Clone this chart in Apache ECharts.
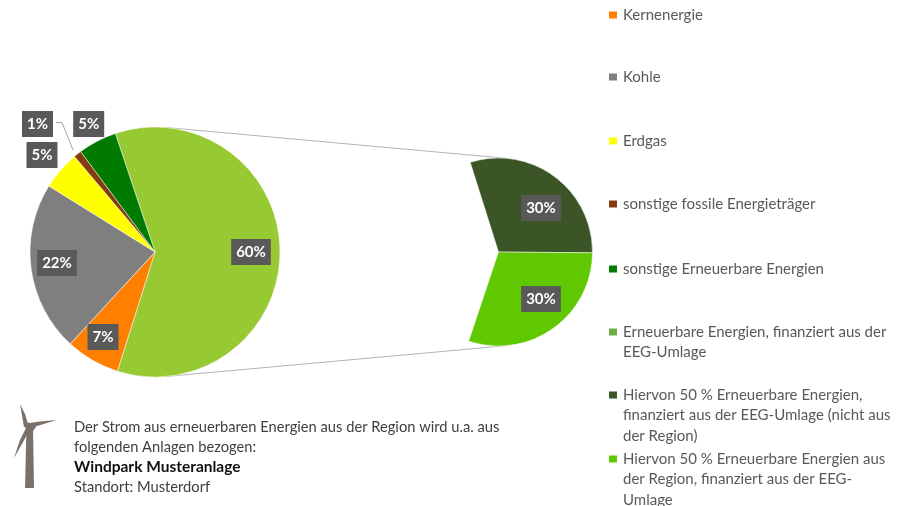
<!DOCTYPE html>
<html>
<head>
<meta charset="utf-8">
<style>
  html, body { margin: 0; padding: 0; background: #fff; }
  #chart { width: 908px; height: 506px; }
</style>
<script src="https://cdn.jsdelivr.net/npm/echarts@6/dist/echarts.min.js"></script>
</head>
<body>
<div id="chart"></div>
<script>
// data
const mainNames = [
  'Erneuerbare Energien, finanziert aus der EEG-Umlage',
  'Kernenergie',
  'Kohle',
  'Erdgas',
  'sonstige fossile Energieträger',
  'sonstige Erneuerbare Energien'
]
const mainValues = [60, 7, 22, 5, 1, 5]
const subNames = [
  'Hiervon 50 % Erneuerbare Energien, finanziert aus der EEG-Umlage (nicht aus der Region)',
  'Hiervon 50 % Erneuerbare Energien aus der Region, finanziert aus der EEG-Umlage'
]
const subValues = [30, 30]
const legendOrder = [
  'Kernenergie',
  'Kohle',
  'Erdgas',
  'sonstige fossile Energieträger',
  'sonstige Erneuerbare Energien',
  'Erneuerbare Energien, finanziert aus der EEG-Umlage',
  'Hiervon 50 % Erneuerbare Energien, finanziert aus der EEG-Umlage (nicht aus der Region)',
  'Hiervon 50 % Erneuerbare Energien aus der Region, finanziert aus der EEG-Umlage'
]
const legendLines = [
  ['Kernenergie'],
  ['Kohle'],
  ['Erdgas'],
  ['sonstige fossile Energieträger'],
  ['sonstige Erneuerbare Energien'],
  ['Erneuerbare Energien, finanziert aus der', 'EEG-Umlage'],
  ['Hiervon 50 % Erneuerbare Energien,', 'finanziert aus der EEG-Umlage (nicht aus', 'der Region)'],
  ['Hiervon 50 % Erneuerbare Energien aus', 'der Region, finanziert aus der EEG-', 'Umlage']
]
const noteLines = [
  'Der Strom aus erneuerbaren Energien aus der Region wird u.a. aus',
  'folgenden Anlagen bezogen:',
  'Windpark Musteranlage',
  'Standort: Musterdorf'
]

// styles and layout
const mainColors = ['#97c933', '#ff7f00', '#7f7f7f', '#ffff00', '#843c0c', '#007a00']
const subColors = ['#3b5526', '#5fc800']
const legendColors = ['#ff7f00', '#7f7f7f', '#ffff00', '#843c0c', '#007a00', '#70ad47', '#3b5526', '#5fc800']
const legendY = [15, 77, 141, 204, 269, 332, 395, 459]
const mainLabelPos = [[251, 252], [103, 337], [57, 263], [42, 155], [37.5, 124], [88.7, 124]]
const subLabelPos = [[541, 208], [541, 299]]
const noteY = [427, 447, 467, 487]
const FONT = 'Lato, "Open Sans", sans-serif'
const LEGEND_LINE = 20.5
const mainPie = { x: 155, y: 252, r: 125 }
const subPie = { x: 498.5, y: 252, r: 94 }

// aeussere Tangenten zwischen den beiden Kreisen
function connectors() {
  const a = Math.asin((mainPie.r - subPie.r) / (subPie.x - mainPie.x))
  return [-1, 1].map(sign => ({
    type: 'line',
    silent: true,
    shape: {
      x1: mainPie.x + mainPie.r * Math.sin(a),
      y1: mainPie.y + sign * mainPie.r * Math.cos(a),
      x2: subPie.x + subPie.r * Math.sin(a),
      y2: subPie.y + sign * subPie.r * Math.cos(a)
    },
    style: { stroke: '#b3b3b3', lineWidth: 1 }
  }))
}

function turbine() {
  const fill = '#7a716b'
  return [
    [[26.5, 427], [33, 427], [34, 488], [25, 488]],
    [[20, 404], [25, 414], [28.5, 426], [24, 427]],
    [[26, 423.5], [40, 421.5], [56.5, 420], [42, 424.5], [28, 429]],
    [[25.5, 429], [20, 440], [14, 458], [22.5, 443], [29, 431]],
    [[24, 422], [30, 423], [36, 427], [33, 431], [26, 430]]
  ].map(points => ({
    type: 'polygon',
    silent: true,
    shape: { points },
    style: { fill }
  }))
}

function pieSeries(names, values, colors, pos, pie, startAngle) {
  return {
    type: 'pie',
    center: [pie.x, pie.y],
    radius: pie.r,
    startAngle,
    // beide Kreise ueberstreichen nur die 60 % = 216 Grad der Anteile
    endAngle: startAngle - values.reduce((a, b) => a + b, 0) * 3.6,
    clockwise: true,
    animation: false,
    silent: true,
    avoidLabelOverlap: false,
    itemStyle: { borderColor: '#fff', borderWidth: 0.5 },
    label: {
      position: 'inside',
      formatter: '{c}%',
      color: '#fff',
      fontFamily: FONT,
      fontWeight: 'bold',
      fontSize: 15,
      backgroundColor: '#595959',
      padding: [6, 5, 5, 5]
    },
    labelLine: { show: false },
    labelLayout: params => ({
      x: pos[params.dataIndex][0],
      y: pos[params.dataIndex][1],
      align: 'center',
      verticalAlign: 'middle'
    }),
    data: names.map((name, i) => ({
      name,
      value: values[i],
      itemStyle: { color: colors[i] }
    }))
  }
}

const chart = echarts.init(document.getElementById('chart'))
chart.setOption({
  backgroundColor: '#fff',
  animation: false,
  tooltip: { show: false },
  // jeder Eintrag eine eigene Legende, die Abstaende sind ungleichmaessig
  legend: legendOrder.map((name, i) => {
    const n = legendLines[i].length
    return {
      left: 607,
      top: legendY[i] - (2 * n - 1) * LEGEND_LINE / 2,
      padding: 0,
      orient: 'vertical',
      selectedMode: false,
      icon: 'rect',
      itemWidth: 10,
      itemHeight: 9,
      data: [{ name, itemStyle: { color: legendColors[i] } }],
      // Leerzeilen davor, damit der Marker auf Hoehe der ersten Zeile steht
      formatter: () => '\n'.repeat(n - 1) + legendLines[i].join('\n'),
      textStyle: {
        color: '#595959',
        fontFamily: FONT,
        fontSize: 15,
        lineHeight: LEGEND_LINE
      }
    }
  }),
  series: [
    pieSeries(mainNames, mainValues, mainColors, mainLabelPos, mainPie, 108.5),
    pieSeries(subNames, subValues, subColors, subLabelPos, subPie, 107.5)
  ],
  graphic: [
    ...connectors(),
    {
      type: 'polyline',
      silent: true,
      shape: { points: [[56, 122.5], [62, 122.5], [73, 150]] },
      style: { stroke: '#a6a6a6', lineWidth: 1, fill: 'none' }
    },
    ...turbine(),
    ...noteLines.map((text, i) => ({
      type: 'text',
      silent: true,
      x: 74,
      y: noteY[i],
      style: {
        text,
        fill: i === 2 ? '#111' : '#404040',
        font: (i === 2 ? 'bold 15.5px ' : '14.7px ') + FONT,
        verticalAlign: 'middle'
      }
    }))
  ]
})
</script>
</body>
</html>
